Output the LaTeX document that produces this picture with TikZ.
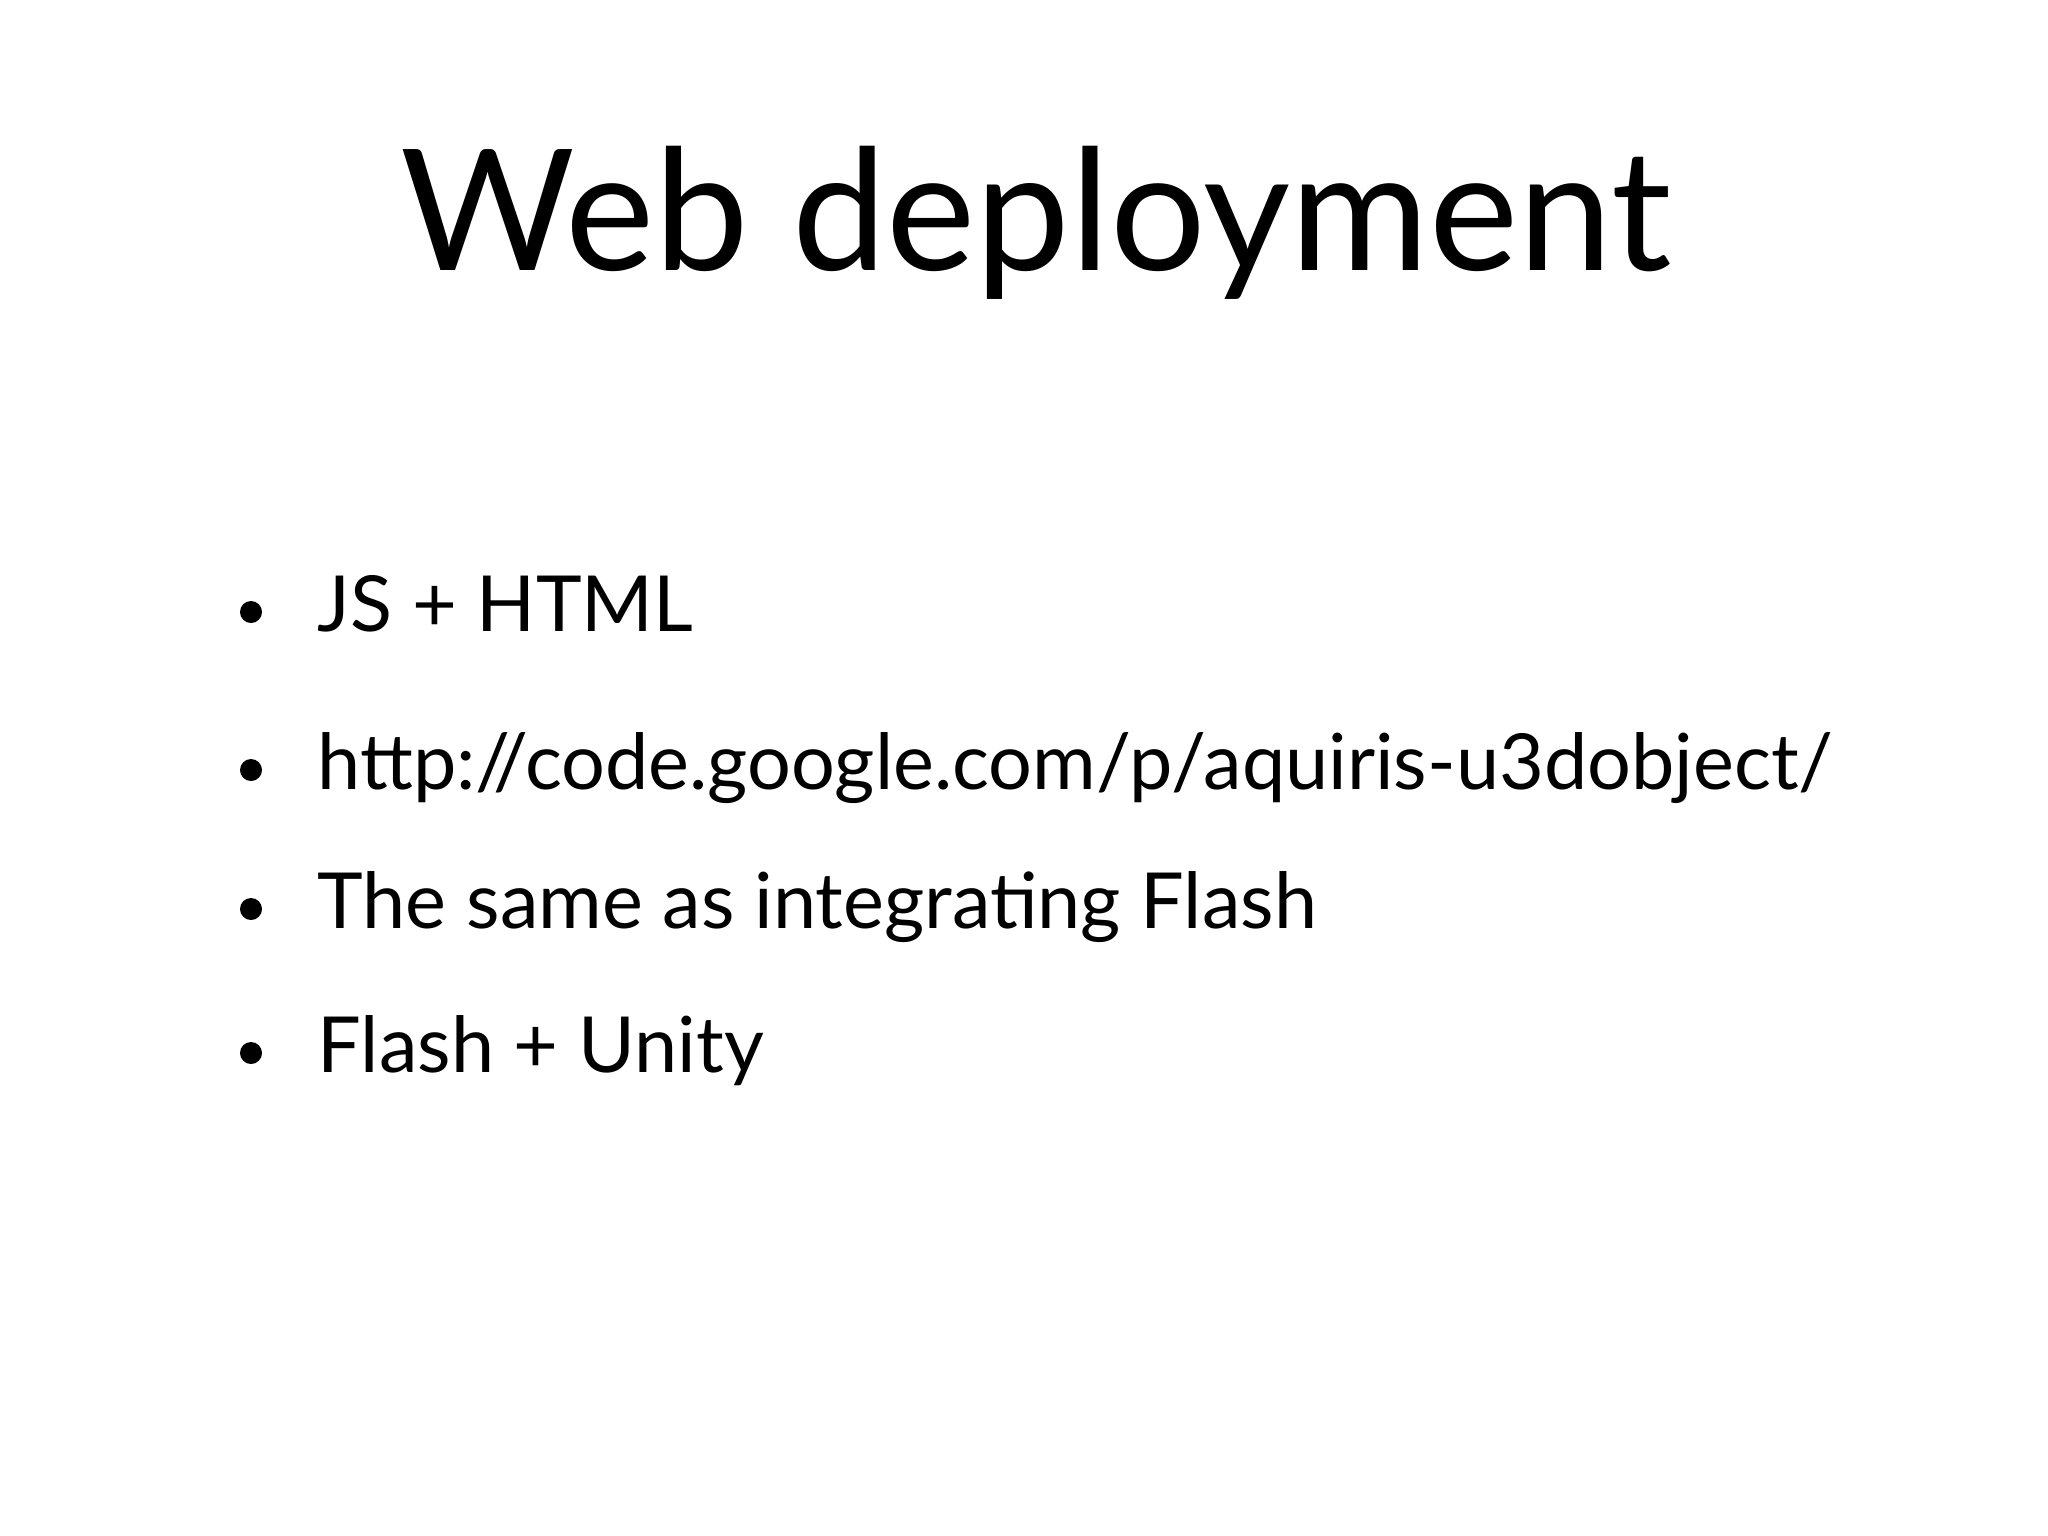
\documentclass[tikz,border=0pt]{standalone}
\usepackage{fontspec}
\setmainfont{Lato}
\begin{document}
\begin{tikzpicture}[x=0.01cm,y=-0.01cm,
  item/.style={anchor=base west,inner sep=0pt,font=\fontsize{22pt}{26pt}\selectfont},
  dot/.style={circle,fill=black,inner sep=0pt,minimum size=0.22cm}]
\useasboundingbox (0,0) rectangle (2048,1536);
\node[anchor=base,inner sep=0pt,font=\fontsize{48pt}{56pt}\selectfont] (title) at (1036,270) {Web deployment};
\node[item] (i1) at (317,631) {JS + HTML};
\node[item] (i2) at (317,789) {http://code.google.com/p/aquiris-u3dobject/};
\node[item] (i3) at (317,928) {The same as integrating Flash};
\node[item] (i4) at (317,1072) {Flash + Unity};
\node[dot] (b1) at (251,612) {};
\node[dot] (b2) at (251,770) {};
\node[dot] (b3) at (251,909) {};
\node[dot] (b4) at (251,1053) {};
\end{tikzpicture}
\end{document}
